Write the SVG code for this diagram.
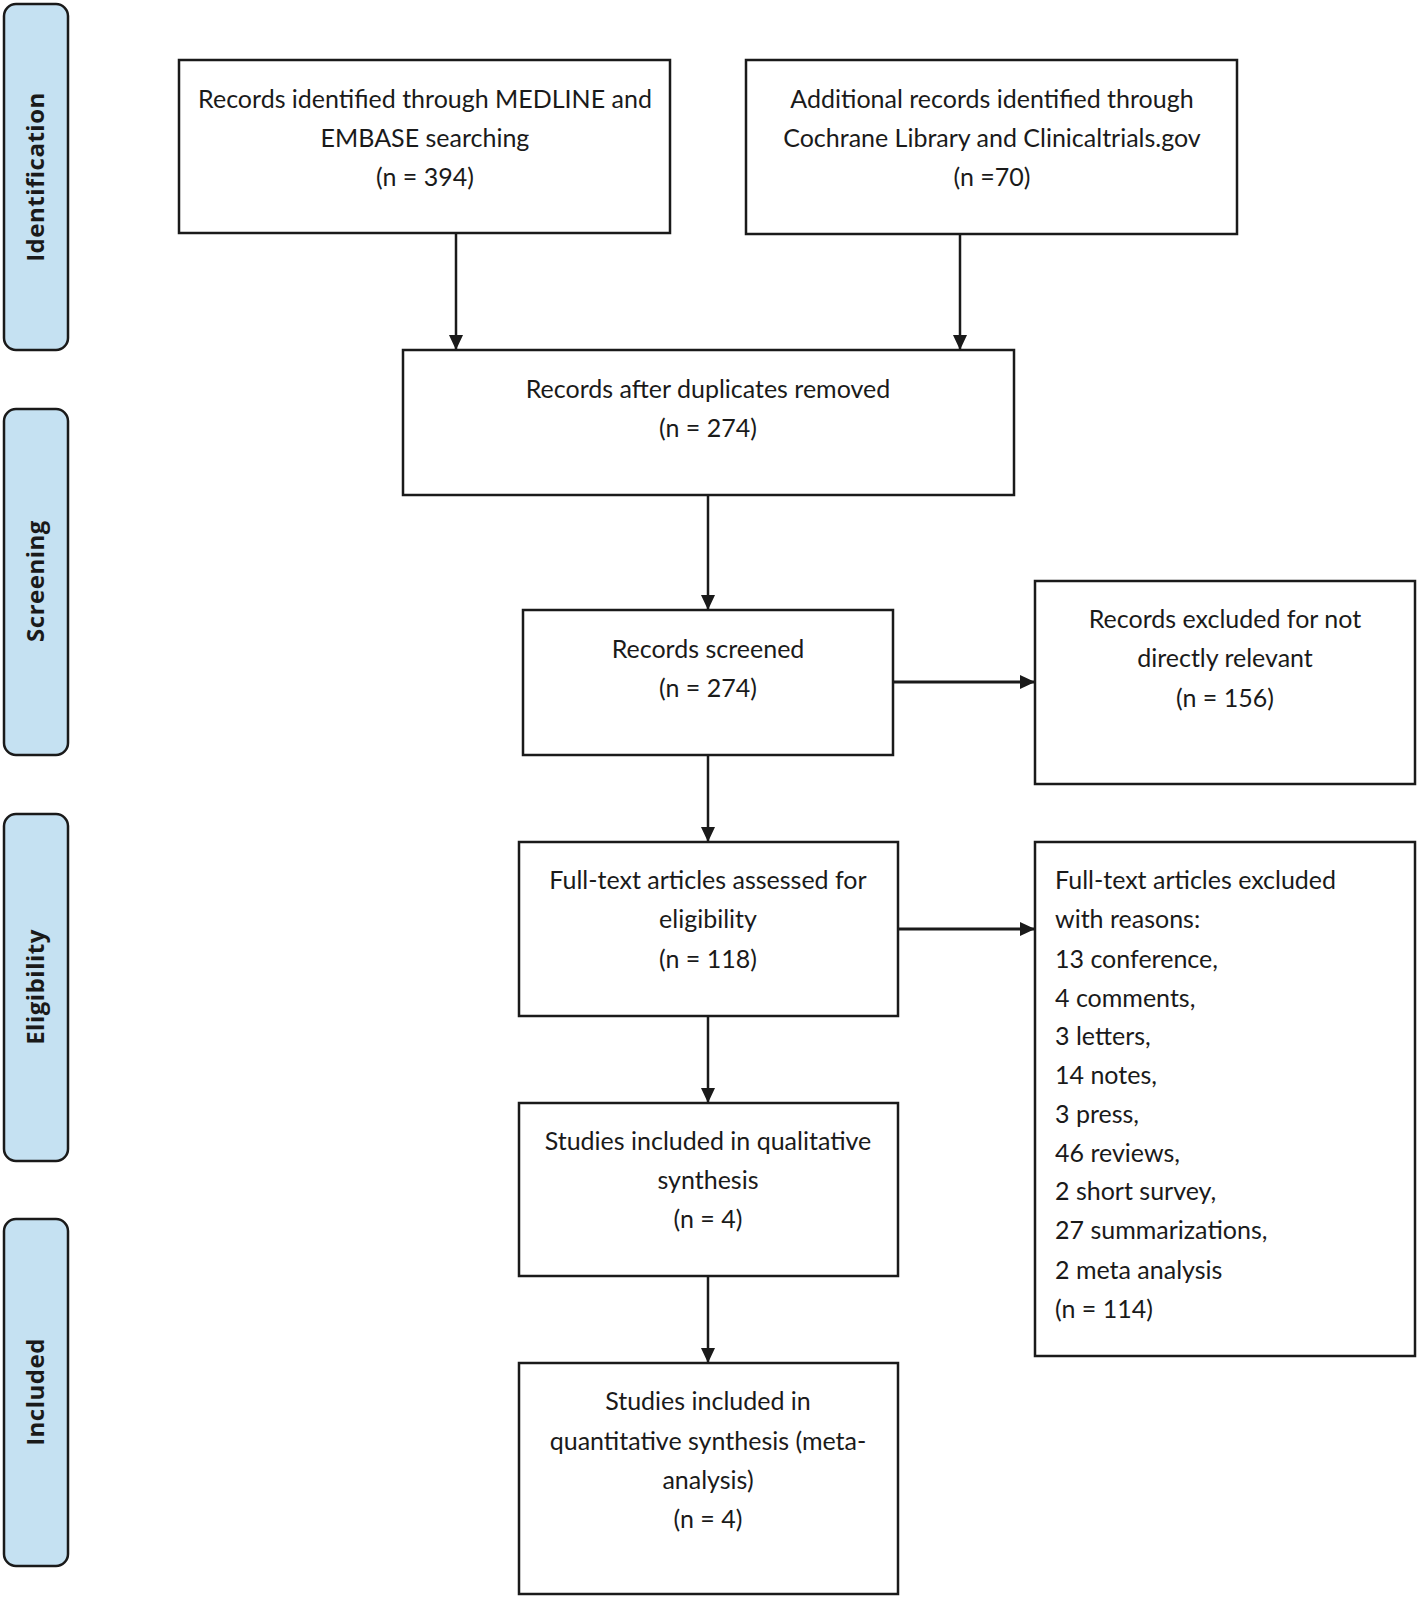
<svg xmlns="http://www.w3.org/2000/svg" width="1418" height="1600" viewBox="0 0 1418 1600">
<style>
.bg{fill:#ffffff}
.box{fill:#ffffff;stroke:#1a1a1a;stroke-width:2.5}
.side{fill:#c5e1f2;stroke:#1a1a1a;stroke-width:2.5}
.t{font-family:Lato,"Liberation Sans",sans-serif;font-size:25px;fill:#1a1a1a;text-anchor:middle}
.tl{font-family:Lato,"Liberation Sans",sans-serif;font-size:25px;fill:#1a1a1a;text-anchor:start}
.sl{font-family:"Open Sans","DejaVu Sans",sans-serif;font-size:24px;font-weight:bold;fill:#1a1a1a;text-anchor:middle;letter-spacing:0.5px}
.c{stroke:#1a1a1a;stroke-width:2.5;fill:none}
</style>
<defs>
<marker id="ah" markerUnits="userSpaceOnUse" markerWidth="16" markerHeight="16" refX="15" refY="7" orient="auto">
<path d="M0,0 L15,7 L0,14 Z" fill="#1a1a1a"/>
</marker>
</defs>
<rect class="bg" x="0" y="0" width="1418" height="1600"/>

<g id="phase-identification">
<rect class="side" x="4" y="4" width="64" height="346" rx="12"/>
<text class="sl" transform="translate(44,177) rotate(-90)">Identification</text>
</g>
<g id="phase-screening">
<rect class="side" x="4" y="409" width="64" height="346" rx="12"/>
<text class="sl" transform="translate(44,581) rotate(-90)">Screening</text>
</g>
<g id="phase-eligibility">
<rect class="side" x="4" y="814" width="64" height="347" rx="12"/>
<text class="sl" transform="translate(44,987) rotate(-90)">Eligibility</text>
</g>
<g id="phase-included">
<rect class="side" x="4" y="1219" width="64" height="347" rx="12"/>
<text class="sl" transform="translate(44,1392) rotate(-90)">Included</text>
</g>

<g id="connectors">
<line class="c" x1="456" y1="233" x2="456" y2="350" marker-end="url(#ah)"/>
<line class="c" x1="960" y1="234" x2="960" y2="350" marker-end="url(#ah)"/>
<line class="c" x1="708" y1="495" x2="708" y2="610" marker-end="url(#ah)"/>
<line class="c" x1="893" y1="682" x2="1035" y2="682" marker-end="url(#ah)" style="stroke-width:3"/>
<line class="c" x1="708" y1="755" x2="708" y2="842" marker-end="url(#ah)"/>
<line class="c" x1="898" y1="929" x2="1035" y2="929" marker-end="url(#ah)" style="stroke-width:3"/>
<line class="c" x1="708" y1="1016" x2="708" y2="1103" marker-end="url(#ah)"/>
<line class="c" x1="708" y1="1276" x2="708" y2="1363" marker-end="url(#ah)"/>
</g>

<g id="node-medline">
<rect class="box" x="179" y="60" width="491" height="173"/>
<text class="t" x="425" y="108">Records identified through MEDLINE and</text>
<text class="t" x="425" y="147">EMBASE searching</text>
<text class="t" x="425" y="186">(n = 394)</text>
</g>
<g id="node-additional">
<rect class="box" x="746" y="60" width="491" height="174"/>
<text class="t" x="992" y="108">Additional records identified through</text>
<text class="t" x="992" y="147">Cochrane Library and Clinicaltrials.gov</text>
<text class="t" x="992" y="186">(n =70)</text>
</g>
<g id="node-duplicates">
<rect class="box" x="403" y="350" width="611" height="145"/>
<text class="t" x="708" y="398">Records after duplicates removed</text>
<text class="t" x="708" y="437">(n = 274)</text>
</g>
<g id="node-screened">
<rect class="box" x="523" y="610" width="370" height="145"/>
<text class="t" x="708" y="658">Records screened</text>
<text class="t" x="708" y="697">(n = 274)</text>
</g>
<g id="node-excluded">
<rect class="box" x="1035" y="581" width="380" height="203"/>
<text class="t" x="1225" y="628">Records excluded for not</text>
<text class="t" x="1225" y="667">directly relevant</text>
<text class="t" x="1225" y="707">(n = 156)</text>
</g>
<g id="node-fulltext">
<rect class="box" x="519" y="842" width="379" height="174"/>
<text class="t" x="708" y="889">Full-text articles assessed for</text>
<text class="t" x="708" y="928">eligibility</text>
<text class="t" x="708" y="968">(n = 118)</text>
</g>
<g id="node-fulltext-excluded">
<rect class="box" x="1035" y="842" width="380" height="514"/>
<text class="tl" x="1055" y="889">Full-text articles excluded</text>
<text class="tl" x="1055" y="928">with reasons:</text>
<text class="tl" x="1055" y="968">13 conference,</text>
<text class="tl" x="1055" y="1007">4 comments,</text>
<text class="tl" x="1055" y="1045">3 letters,</text>
<text class="tl" x="1055" y="1084">14 notes,</text>
<text class="tl" x="1055" y="1123">3 press,</text>
<text class="tl" x="1055" y="1162">46 reviews,</text>
<text class="tl" x="1055" y="1200">2 short survey,</text>
<text class="tl" x="1055" y="1239">27 summarizations,</text>
<text class="tl" x="1055" y="1279">2 meta analysis</text>
<text class="tl" x="1055" y="1318">(n = 114)</text>
</g>
<g id="node-qualitative">
<rect class="box" x="519" y="1103" width="379" height="173"/>
<text class="t" x="708" y="1150">Studies included in qualitative</text>
<text class="t" x="708" y="1189">synthesis</text>
<text class="t" x="708" y="1228">(n = 4)</text>
</g>
<g id="node-quantitative">
<rect class="box" x="519" y="1363" width="379" height="231"/>
<text class="t" x="708" y="1410">Studies included in</text>
<text class="t" x="708" y="1450">quantitative synthesis (meta-</text>
<text class="t" x="708" y="1489">analysis)</text>
<text class="t" x="708" y="1528">(n = 4)</text>
</g>
</svg>
